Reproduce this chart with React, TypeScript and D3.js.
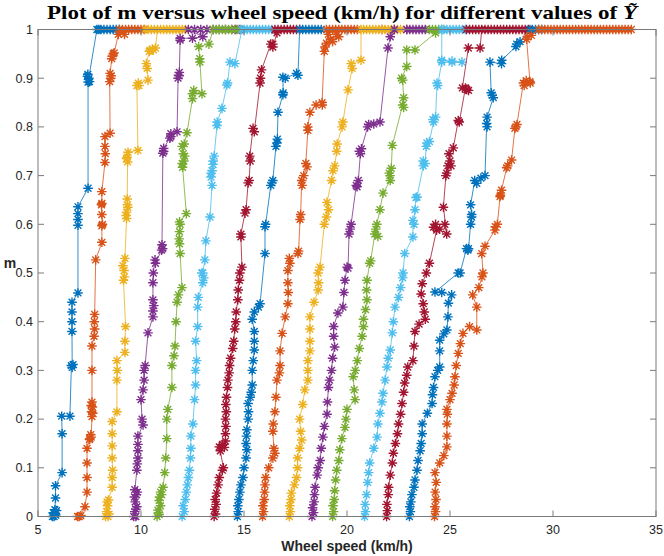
import React from "react";
import * as d3 from "d3";

type P = [number, number];

const xTicks = [5, 10, 15, 20, 25, 30, 35];
const yTicks = [0, 0.1, 0.2, 0.3, 0.4, 0.5, 0.6, 0.7, 0.8, 0.9, 1];
const yTickLabels = ["0", "0.1", "0.2", "0.3", "0.4", "0.5", "0.6", "0.7", "0.8", "0.9", "1"];

const colors = ["#0072BD", "#D95319", "#EDB120", "#7E2F8E", "#77AC30", "#4DBEEE", "#A2142F"];

const s01: P[] = [[5.70,0],[5.78,0],[5.8,0.005],[5.86,0.003],[5.9,0.012],[5.74,0.008],[5.82,0.014],[5.85,0.038],[5.85,0.063],[6.17,0.09],[6.17,0.17],[6.15,0.206],[6.55,0.206],[6.62,0.31],[6.7,0.312],[6.66,0.306],[6.65,0.38],[6.65,0.40],[6.65,0.42],[6.65,0.44],[6.94,0.459],[6.94,0.598],[6.94,0.61],[6.94,0.622],[6.94,0.636],[7.43,0.674],[7.43,0.892],[7.5,0.893],[7.47,0.9],[7.4,0.904],[7.42,0.908],[7.45,0.897],[7.86,1]];
const t01 = [7.95, 8.05, 8.2, 8.35, 8.5, 8.65, 8.8, 8.95];

const s02: P[] = [[6.92,0],[7.0,0],[7.08,0.002],[7.28,0.02],[7.38,0.05],[7.38,0.08],[7.38,0.11],[7.38,0.14],[7.5,0.158],[7.52,0.16],[7.56,0.168],[7.58,0.163],[7.62,0.205],[7.66,0.212],[7.6,0.215],[7.64,0.225],[7.58,0.228],[7.62,0.235],[7.62,0.30],[7.62,0.35],[7.72,0.37],[7.75,0.385],[7.73,0.40],[7.75,0.415],[7.8,0.527],[8.1,0.563],[8.1,0.597],[8.13,0.6],[8.1,0.62],[8.08,0.64],[8.1,0.643],[8.1,0.667],[8.25,0.727],[8.27,0.745],[8.25,0.76],[8.25,0.78],[8.5,0.787],[8.48,0.893],[8.53,0.9],[8.55,0.905],[8.5,0.91],[8.58,0.94],[8.6,0.945],[8.65,0.95],[8.7,0.952],[8.9,0.99],[9.0,0.995],[9.2,0.99]];
const t02 = [8.95, 9.1, 9.25, 9.4, 9.55, 9.7, 9.85, 10.0, 10.15];

const s03: P[] = [[8.28,0],[8.4,0],[8.45,0.005],[8.33,0.01],[8.38,0.022],[8.35,0.03],[8.42,0.034],[8.6,0.06],[8.6,0.08],[8.62,0.095],[8.6,0.12],[8.6,0.145],[8.6,0.17],[8.6,0.195],[8.83,0.215],[8.83,0.28],[8.85,0.30],[8.83,0.32],[9.22,0.337],[9.22,0.36],[9.25,0.39],[9.15,0.485],[9.2,0.492],[9.18,0.505],[9.12,0.515],[9.22,0.53],[9.3,0.612],[9.28,0.618],[9.3,0.625],[9.36,0.635],[9.34,0.64],[9.33,0.652],[9.35,0.728],[9.3,0.735],[9.33,0.738],[9.37,0.748],[9.85,0.752],[9.8,0.885],[9.9,0.885],[9.87,0.89],[10.34,0.896],[10.3,0.92],[10.26,0.93],[10.4,0.955],[10.44,0.957],[10.55,0.96],[10.6,0.958],[10.7,0.962],[10.8,1]];
const t03 = [10.2, 10.35, 10.5, 10.65, 10.95, 11.1, 11.25, 11.4, 11.55, 11.7, 11.85, 12.0, 12.15];

const s04: P[] = [[9.65,0],[9.75,0],[9.7,0.01],[9.75,0.015],[9.8,0.02],[9.72,0.03],[9.68,0.04],[9.78,0.045],[9.82,0.05],[9.7,0.055],[9.8,0.095],[9.82,0.108],[9.85,0.12],[9.85,0.135],[9.85,0.148],[9.85,0.165],[10.1,0.188],[10.05,0.2],[10.0,0.24],[10.1,0.26],[10.15,0.28],[10.15,0.30],[10.2,0.31],[10.34,0.377],[10.58,0.41],[10.58,0.422],[10.62,0.433],[10.58,0.445],[10.58,0.48],[10.6,0.5],[10.68,0.527],[10.7,0.52],[11.0,0.547],[11.05,0.55],[11.02,0.558],[11.06,0.746],[11.1,0.75],[11.1,0.756],[11.4,0.777],[11.45,0.78],[11.45,0.786],[11.75,0.79],[11.8,0.9],[11.85,0.905],[11.82,0.906],[11.86,0.912],[11.9,0.978],[11.9,0.982],[12.5,0.982],[13.0,0.985]];
const t04 = [12.3, 12.6, 12.9, 13.2, 13.5, 13.8, 14.1, 14.4, 14.6, 14.8];

const s05: P[] = [[10.78,0],[10.88,0.004],[10.85,0.008],[10.82,0.013],[10.95,0.022],[10.88,0.033],[10.9,0.04],[11.0,0.045],[10.95,0.05],[11.07,0.06],[11.15,0.09],[11.2,0.12],[11.25,0.16],[11.25,0.2],[11.3,0.22],[11.5,0.265],[11.5,0.31],[11.6,0.33],[11.65,0.35],[11.7,0.40],[11.75,0.44],[11.82,0.455],[11.99,0.47],[11.9,0.54],[11.87,0.56],[11.85,0.57],[11.87,0.585],[11.9,0.6],[11.87,0.605],[12.2,0.622],[12.02,0.717],[12.0,0.725],[12.08,0.73],[12.12,0.74],[12.05,0.745],[12.0,0.76],[12.1,0.765],[12.23,0.788],[12.5,0.858],[12.5,0.868],[12.56,0.875],[12.96,0.868],[12.86,0.933],[12.85,0.94],[12.8,0.965],[13.3,0.97],[13.5,1]];
const t05 = [13.65, 13.8, 13.95, 14.1, 14.25, 14.4, 14.55, 14.7];

const s06: P[] = [[12.0,0],[12.1,0.01],[12.05,0.022],[12.15,0.035],[12.2,0.05],[12.25,0.065],[12.3,0.08],[12.35,0.095],[12.4,0.12],[12.42,0.14],[12.42,0.165],[12.52,0.19],[12.6,0.24],[12.65,0.27],[12.65,0.3],[12.7,0.32],[12.65,0.36],[12.75,0.39],[12.75,0.43],[12.78,0.45],[13.0,0.48],[13.05,0.49],[12.95,0.5],[13.0,0.5],[13.1,0.527],[13.15,0.566],[13.35,0.615],[13.45,0.68],[13.4,0.697],[13.4,0.705],[13.45,0.71],[13.5,0.723],[13.5,0.73],[13.55,0.74],[13.69,0.803],[13.7,0.81],[13.93,0.838],[14.17,0.886],[14.2,0.89],[14.32,0.933],[14.56,0.93],[14.9,1]];
const t06 = [15.0, 15.15, 15.3, 15.45, 15.6, 15.75, 15.9, 16.05, 16.2, 16.35];

const s07: P[] = [[13.55,0],[13.62,0.005],[13.58,0.015],[13.65,0.025],[13.6,0.035],[13.67,0.048],[13.74,0.065],[13.8,0.08],[13.95,0.095],[14.0,0.1],[13.85,0.135],[13.8,0.143],[13.95,0.148],[14.05,0.142],[14.1,0.155],[14.1,0.17],[14.12,0.185],[14.1,0.2],[14.14,0.215],[14.12,0.23],[14.15,0.245],[14.2,0.265],[14.22,0.28],[14.28,0.295],[14.3,0.31],[14.35,0.325],[14.45,0.345],[14.5,0.36],[14.55,0.385],[14.6,0.4],[14.62,0.42],[14.7,0.445],[14.72,0.465],[14.78,0.485],[14.8,0.5],[14.9,0.512],[14.85,0.574],[14.85,0.58],[15.05,0.623],[15.1,0.63],[15.2,0.685],[15.25,0.69],[15.3,0.73],[15.28,0.74],[15.44,0.797],[15.5,0.79],[15.78,0.89],[15.8,0.9],[15.85,0.917],[16.3,0.97],[16.4,0.97],[16.4,0.964],[16.6,0.993]];
const t07 = [16.5, 16.65, 16.8, 16.95, 17.1, 17.25, 17.4, 17.55, 17.7];

const s08: P[] = [[14.68,0],[14.72,0.01],[14.7,0.022],[14.75,0.035],[14.8,0.05],[14.85,0.065],[14.95,0.08],[15.0,0.1],[15.1,0.12],[15.14,0.137],[15.1,0.15],[15.12,0.165],[15.14,0.178],[15.2,0.2],[15.22,0.215],[15.2,0.232],[15.3,0.245],[15.35,0.255],[15.4,0.27],[15.4,0.3],[15.45,0.32],[15.5,0.342],[15.5,0.36],[15.5,0.38],[15.4,0.405],[15.5,0.42],[15.7,0.43],[15.78,0.437],[16.02,0.54],[16.02,0.595],[16.05,0.6],[16.3,0.68],[16.36,0.685],[16.4,0.69],[16.55,0.76],[16.6,0.767],[16.62,0.775],[16.65,0.83],[16.89,0.866],[16.9,0.87],[16.89,0.902],[17.0,0.9],[17.55,0.91],[17.62,0.906],[17.7,1]];
const t08 = [17.85, 18.0, 18.15, 18.3, 18.45, 18.6, 18.75];

const s09: P[] = [[15.9,0],[15.95,0.01],[15.92,0.022],[15.98,0.035],[16.0,0.05],[16.02,0.065],[16.05,0.08],[16.2,0.1],[16.4,0.12],[16.5,0.13],[16.45,0.14],[16.4,0.175],[16.42,0.19],[16.5,0.215],[16.55,0.245],[16.6,0.28],[16.72,0.295],[16.75,0.31],[16.75,0.34],[16.85,0.376],[17.0,0.41],[17.13,0.437],[17.15,0.46],[17.13,0.48],[17.13,0.505],[17.23,0.52],[17.2,0.53],[17.62,0.54],[17.65,0.545],[17.72,0.61],[17.75,0.62],[17.8,0.69],[17.82,0.68],[17.9,0.7],[18.06,0.718],[18.0,0.725],[18.1,0.793],[18.1,0.8],[18.2,0.83],[18.5,0.845],[18.8,0.845],[18.79,0.85],[18.9,0.955],[18.93,0.964],[19.1,0.99],[19.0,0.972],[19.3,0.975],[19.2,0.98],[19.6,0.985],[19.5,0.99]];
const t09 = [19.0, 19.15, 19.3, 19.45, 19.6, 19.75, 19.9, 20.05, 20.2, 20.35, 20.5, 21.7, 22.3, 22.9];

const s10: P[] = [[17.2,0],[17.25,0.01],[17.22,0.022],[17.28,0.035],[17.3,0.048],[17.45,0.065],[17.55,0.08],[17.6,0.1],[17.6,0.12],[17.7,0.14],[17.8,0.157],[17.75,0.175],[17.7,0.2],[17.85,0.23],[17.95,0.26],[18.1,0.28],[18.1,0.3],[18.1,0.32],[18.2,0.34],[18.2,0.36],[18.2,0.385],[18.2,0.41],[18.4,0.44],[18.6,0.465],[18.62,0.48],[18.6,0.5],[18.69,0.512],[18.9,0.6],[19.0,0.615],[19.1,0.63],[19.03,0.645],[19.25,0.69],[19.32,0.71],[19.4,0.72],[19.5,0.75],[19.52,0.765],[19.76,0.8],[19.8,0.81],[20.05,0.876],[20.25,0.92],[20.2,0.93],[20.68,0.937],[20.68,1]];
const t10 = [20.8, 20.95, 21.1, 21.25, 21.4, 21.55, 21.7, 21.85, 22.0, 22.15, 22.3, 22.45, 22.6];

const s11: P[] = [[18.3,0],[18.38,0.008],[18.33,0.018],[18.4,0.03],[18.42,0.045],[18.45,0.06],[18.55,0.085],[18.6,0.1],[18.7,0.115],[18.75,0.14],[18.83,0.163],[18.9,0.185],[19.03,0.21],[19.05,0.235],[19.1,0.265],[19.15,0.28],[19.25,0.3],[19.3,0.325],[19.4,0.348],[19.35,0.37],[19.35,0.39],[19.56,0.418],[19.8,0.43],[19.85,0.46],[19.9,0.485],[20.0,0.512],[20.05,0.51],[20.1,0.58],[20.15,0.59],[20.2,0.6],[20.45,0.68],[20.49,0.677],[20.55,0.69],[20.65,0.745],[20.6,0.75],[20.7,0.755],[21.0,0.8],[21.05,0.805],[21.3,0.806],[21.6,0.81],[21.99,0.962],[22.1,0.985]];
const t11 = [22.3, 22.9, 23.05, 23.2, 23.35, 23.5, 23.65, 23.8];

const s12: P[] = [[19.3,0],[19.35,0.01],[19.32,0.022],[19.38,0.035],[19.4,0.053],[19.45,0.075],[19.5,0.095],[19.6,0.115],[19.65,0.137],[19.75,0.16],[19.9,0.183],[19.95,0.2],[20.0,0.22],[20.39,0.24],[20.35,0.26],[20.3,0.287],[20.4,0.3],[20.5,0.32],[20.6,0.345],[20.73,0.37],[20.8,0.39],[20.8,0.405],[20.9,0.425],[20.97,0.445],[20.95,0.465],[20.97,0.485],[21.1,0.52],[21.15,0.525],[21.35,0.58],[21.5,0.575],[21.4,0.59],[21.45,0.6],[21.6,0.63],[21.75,0.664],[22.1,0.69],[22.09,0.7],[22.05,0.705],[22.15,0.715],[22.2,0.762],[22.7,0.845],[22.75,0.84],[22.75,0.86],[22.7,0.896],[22.65,0.9],[22.9,0.924],[22.9,0.958],[23.3,0.958],[24.3,0.993]];
const t12 = [24.0, 24.15, 24.3, 24.45, 24.6];

const s13: P[] = [[20.85,0],[20.9,0.01],[20.88,0.025],[20.95,0.045],[21.0,0.07],[21.05,0.09],[21.1,0.11],[21.3,0.14],[21.46,0.163],[21.5,0.19],[21.6,0.212],[21.7,0.235],[21.75,0.253],[21.85,0.28],[21.94,0.307],[22.0,0.325],[22.1,0.342],[22.2,0.377],[22.25,0.4],[22.33,0.43],[22.5,0.45],[22.6,0.47],[22.7,0.49],[22.72,0.5],[22.8,0.54],[23.2,0.574],[23.2,0.608],[23.25,0.6],[23.3,0.63],[23.35,0.655],[23.4,0.656],[23.7,0.72],[23.7,0.73],[23.79,0.725],[23.85,0.76],[23.88,0.767],[24.0,0.77],[24.2,0.81],[24.17,0.815],[24.3,0.82],[24.37,0.89],[24.4,0.885],[24.6,0.933],[25.1,0.933],[25.58,0.933],[25.1,0.935],[24.6,0.937],[24.6,1]];
const t13 = [24.7, 24.85, 25.0, 25.15, 25.3, 25.45, 25.6, 25.75];

const s14: P[] = [[21.92,0],[21.96,0.012],[21.94,0.025],[22.0,0.045],[22.02,0.06],[22.1,0.085],[22.2,0.11],[22.25,0.13],[22.35,0.15],[22.45,0.17],[22.5,0.19],[22.6,0.21],[22.67,0.232],[22.75,0.255],[22.8,0.274],[22.9,0.29],[22.95,0.307],[23.2,0.32],[23.25,0.35],[23.3,0.38],[23.5,0.395],[23.8,0.405],[23.75,0.42],[23.7,0.437],[23.6,0.457],[23.65,0.478],[23.85,0.5],[24.0,0.52],[24.35,0.588],[24.3,0.6],[24.2,0.594],[24.5,0.59],[24.75,0.6],[24.84,0.58],[24.68,0.635],[24.8,0.7],[24.84,0.705],[24.9,0.72],[25.05,0.72],[25.0,0.73],[24.95,0.745],[25.16,0.757],[25.4,0.813],[25.45,0.81],[25.75,0.88],[25.81,0.877],[25.9,0.875],[25.6,0.88],[25.89,0.962],[26.46,0.962],[26.54,1]];
const t14 = [25.8, 25.95, 26.1, 26.25, 26.4, 26.7, 26.85, 27.0, 27.15, 27.3, 27.45, 27.6, 27.75, 27.9, 28.05, 28.2, 28.35, 28.5, 28.65, 28.8];

const s15: P[] = [[23.03,0],[23.08,0.01],[23.05,0.02],[23.1,0.03],[23.15,0.045],[23.25,0.06],[23.3,0.075],[23.4,0.095],[23.45,0.115],[23.55,0.135],[23.6,0.15],[23.65,0.17],[23.65,0.19],[23.9,0.212],[24.13,0.232],[24.15,0.25],[24.2,0.265],[24.27,0.287],[24.4,0.3],[24.5,0.307],[24.5,0.34],[24.5,0.362],[24.7,0.375],[24.85,0.383],[24.9,0.41],[24.92,0.438],[25.08,0.455],[24.6,0.46],[24.27,0.461],[25.4,0.5],[25.49,0.5],[25.8,0.55],[25.87,0.547],[25.9,0.55],[26.0,0.6],[26.05,0.615],[26.05,0.62],[26.0,0.64],[26.2,0.69],[26.3,0.684],[26.5,0.695],[26.7,0.7],[26.78,0.807],[26.8,0.8],[26.8,0.82],[27.1,0.86],[27.05,0.865],[27.0,0.87],[26.94,0.933],[27.5,0.93],[27.51,0.937],[28.2,0.965],[28.24,0.97],[28.4,0.975],[28.88,1]];
const t15 = [29.0, 29.15, 29.3, 29.45];

const s16: P[] = [[24.25,0],[24.3,0.01],[24.27,0.02],[24.32,0.035],[24.28,0.05],[24.33,0.07],[24.27,0.09],[24.5,0.11],[24.7,0.125],[24.85,0.143],[24.85,0.165],[24.85,0.19],[24.87,0.21],[24.85,0.22],[25.0,0.24],[25.1,0.253],[25.2,0.27],[25.24,0.287],[25.3,0.31],[25.4,0.335],[25.5,0.355],[25.63,0.376],[25.95,0.39],[26.3,0.383],[26.3,0.43],[26.1,0.455],[26.4,0.47],[26.55,0.492],[26.6,0.5],[26.54,0.54],[26.7,0.555],[27.18,0.588],[27.2,0.595],[27.3,0.6],[27.43,0.657],[27.45,0.66],[27.5,0.67],[27.75,0.716],[27.8,0.72],[27.99,0.732],[28.15,0.797],[28.2,0.8],[28.25,0.805],[28.56,0.89],[28.6,0.885],[28.7,0.895],[28.9,0.89],[28.88,0.893],[28.72,0.98],[28.75,0.985],[28.95,0.988],[29.3,1]];
const t16 = [29.45, 29.6, 29.75, 29.9, 30.05, 30.2, 30.35, 30.5, 30.65, 30.8, 30.95, 31.1, 31.25, 31.4, 31.55, 31.7, 31.85, 32.0, 32.15, 32.3, 32.45, 32.6, 32.75, 32.9, 33.05, 33.2, 33.35, 33.5, 33.65, 33.8];

const rises = [s01, s02, s03, s04, s05, s06, s07, s08, s09, s10, s11, s12, s13, s14, s15, s16];
const tops = [t01, t02, t03, t04, t05, t06, t07, t08, t09, t10, t11, t12, t13, t14, t15, t16];

const W = 664, H = 556;
const L = 38, R = 656, T = 29.5, B = 516.5;

export default function App() {
  const x = d3.scaleLinear().domain([5, 35]).range([L, R]);
  const y = d3.scaleLinear().domain([0, 1]).range([B, T]);
  const line = d3.line<P>().x(d => x(d[0])).y(d => y(d[1]));
  const r = 4.8;
  const dd = r * 0.7071;
  const star = (px: number, py: number) =>
    `M${px},${py - r}V${py + r}M${px - r},${py}H${px + r}M${px - dd},${py - dd}L${px + dd},${py + dd}M${px - dd},${py + dd}L${px + dd},${py - dd}`;

  const series = rises.map((s, i) => {
    const pts: P[] = s.concat(tops[i].map(v => [v, 1] as P));
    return { pts, color: colors[i % colors.length] };
  });

  const font = "'Liberation Sans', Arial, Helvetica, sans-serif";
  return (
    <svg width={W} height={H} style={{ position: "absolute", left: 0, top: 0, background: "#fff" }}>
      <rect x={0} y={0} width={W} height={H} fill="#fff" />
      <g>
        {series.map((s, i) => (
          <g key={i}>
            <path d={line(s.pts) || ""} fill="none" stroke={s.color} strokeWidth={0.8} />
            <path d={s.pts.map(p => star(x(p[0]), y(p[1]))).join("")} fill="none" stroke={s.color} strokeWidth={1.4} />
          </g>
        ))}
      </g>
      <rect x={L} y={T} width={R - L} height={B - T} fill="none" stroke="#7a7a7a" strokeWidth={1} />
      {xTicks.map(t => (
        <g key={"x" + t}>
          <line x1={x(t)} x2={x(t)} y1={B} y2={B - 6} stroke="#7a7a7a" />
          <line x1={x(t)} x2={x(t)} y1={T} y2={T + 6} stroke="#7a7a7a" />
          <text x={x(t)} y={534} textAnchor="middle" fontFamily={font} fontSize={12.5} fill="#262626">{t}</text>
        </g>
      ))}
      {yTicks.map((t, i) => (
        <g key={"y" + t}>
          <line x1={L} x2={L + 6} y1={y(t)} y2={y(t)} stroke="#7a7a7a" />
          <line x1={R} x2={R - 6} y1={y(t)} y2={y(t)} stroke="#7a7a7a" />
          <text x={33} y={y(t) + 4.3} textAnchor="end" fontFamily={font} fontSize={12.5} fill="#262626">{yTickLabels[i]}</text>
        </g>
      ))}
      <text x={(L + R) / 2} y={551} textAnchor="middle" fontFamily={font} fontSize={14} fontWeight="bold" fill="#262626">Wheel speed (km/h)</text>
      <text x={10} y={268} textAnchor="middle" fontFamily={font} fontSize={14} fontWeight="bold" fill="#262626">m</text>
      <text x={47} y={19} textAnchor="start" textLength={590} lengthAdjust="spacingAndGlyphs" fontFamily="'Liberation Serif', 'DejaVu Serif', serif" fontSize={19.5} fontWeight="bold" fill="#000">
        Plot of m versus wheel speed (km/h) for different values of <tspan fontStyle="italic">Ỹ</tspan>
      </text>
    </svg>
  );
}
